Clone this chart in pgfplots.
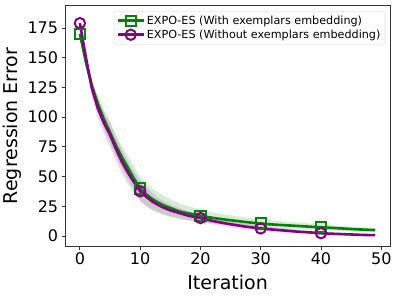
\documentclass[border=0pt]{standalone}
\usepackage{pgfplots}
\pgfplotsset{compat=1.18}
\usepackage{pgfplotstable}
\usepgfplotslibrary{fillbetween}
\usepackage{fontspec}
\setmainfont{DejaVu Sans}
\definecolor{mgreen}{RGB}{0,128,0}
\definecolor{mpurple}{RGB}{128,0,128}
\pgfplotstableread{
x g gl gh p pl ph
0 170 168 172 179 177 181
1 146 142 150 150 146 154
2 126 120 132 124 117 131
3 111 104 118 107 99 115
4 98 90 106 95 86 104
5 87 78 96 85 75 95
6 76 67 85 73 63 83
7 66 56.5 75.5 62 52 72
8 57 47 67 53 43.5 62.5
9 48 38 58 45 36 54
10 40 30 50 37.5 29 46
11 35 25.5 44.5 33 25 41
12 31 22 40 29 22 36
13 28 19.5 36.5 26 20 32
14 25.5 17.5 33.5 23.5 18 29
15 23.5 16 31 21.5 16.5 26.5
16 21.5 14.5 28.5 20 15.5 24.5
17 20 13.5 26.5 18.5 14.5 22.5
18 19 13 25 17 13.2 20.8
19 18 12.5 23.5 16 12.5 19.5
20 17 12 22 15 11.7 18.3
21 16 11.2 20.8 13.8 10.7 16.9
22 15.2 10.6 19.8 12.6 9.6 15.6
23 14.5 10 19 11.6 8.7 14.5
24 13.8 9.5 18.1 10.7 7.9 13.5
25 13.2 9 17.4 9.8 7.1 12.5
26 12.6 8.6 16.6 9 6.4 11.6
27 12 8.1 15.9 8.2 5.7 10.7
28 11.4 7.6 15.2 7.5 5.1 9.9
29 10.9 7.2 14.6 6.9 4.6 9.2
30 10.4 6.9 13.9 6.3 4.1 8.5
31 10 6.6 13.4 5.8 3.7 7.9
32 9.6 6.3 12.9 5.3 3.3 7.3
33 9.3 6.1 12.5 4.9 3 6.8
34 9 5.9 12.1 4.5 2.7 6.3
35 8.7 5.7 11.7 4.1 2.4 5.8
36 8.4 5.5 11.3 3.6 2.1 5.1
37 8.1 5.3 10.9 3.3 1.9 4.7
38 7.8 5.1 10.5 3.0 1.7 4.3
39 7.5 4.9 10.1 2.6 1.4 3.8
40 7.3 4.8 9.8 2.3 1.2 3.4
41 7 4.6 9.4 2.0 1.0 3.0
42 6.7 4.4 9.0 1.8 0.9 2.7
43 6.4 4.2 8.6 1.6 0.8 2.4
44 6.1 4.0 8.2 1.4 0.7 2.1
45 5.8 3.8 7.8 1.2 0.5 1.9
46 5.5 3.6 7.4 1.0 0.4 1.7
47 5.3 3.5 7.1 0.8 0.2 1.5
48 5.1 3.4 6.8 0.7 0.1 1.4
49 4.9 3.3 6.5 0.6 0.0 1.3
}\datatab
\begin{document}
\begin{tikzpicture}
\begin{axis}[
  name=ax,
  scale only axis,
  width=325pt, height=242pt,
  xmin=-2.45, xmax=51.45,
  ymin=-9.25, ymax=194.3,
  xtick={0,10,20,30,40,50},
  ytick={0,25,50,75,100,125,150,175},
  tick align=outside,
  tick pos=left,
  major tick length=3.5pt,
  tick style={black!80, line width=0.8pt},
  axis line style={black!80, line width=0.8pt},
  /pgf/number format/assume math mode=true,
  ticklabel style={font=\fontsize{16}{19}\selectfont},
  xticklabel style={yshift=1pt},
  xlabel={Iteration},
  ylabel={Regression Error},
  label style={font=\fontsize{19}{22}\selectfont},
  xlabel style={yshift=-3pt},
  ylabel style={yshift=-1pt},
  legend style={at={(0.985,0.975)}, anchor=north east,
    font=\fontsize{11.2}{13.5}\selectfont, draw=black!15, rounded corners=2pt,
    row sep=0pt, inner sep=2.5pt},
  legend cell align=left,
  legend image code/.code={
    \draw[mark repeat=2,mark phase=2] plot coordinates {(0cm,0cm) (0.45cm,0cm) (0.9cm,0cm)};
  },
]
\addplot[name path=gh, draw=none, forget plot] table[x=x,y=gh]{\datatab};
\addplot[name path=gl, draw=none, forget plot] table[x=x,y=gl]{\datatab};
\addplot[mgreen, fill opacity=0.15, forget plot] fill between[of=gh and gl];
\addplot[name path=ph, draw=none, forget plot] table[x=x,y=ph]{\datatab};
\addplot[name path=pl, draw=none, forget plot] table[x=x,y=pl]{\datatab};
\addplot[mpurple, fill opacity=0.15, forget plot] fill between[of=ph and pl];
\addplot[mgreen, line width=2.6pt, mark=square, mark size=5.2pt,
  mark repeat=10, mark phase=1, mark options={line width=2pt, fill=none}]
  table[x=x,y=g]{\datatab};
\addlegendentry{EXPO-ES (With exemplars embedding)}
\addplot[mpurple, line width=2.6pt, mark=o, mark size=5.2pt,
  mark repeat=10, mark phase=1, mark options={line width=2pt, fill=none}]
  table[x=x,y=p]{\datatab};
\addlegendentry{EXPO-ES (Without exemplars embedding)}
\end{axis}
\path (ax.south west) ++(-65pt,-49pt) rectangle ++(398pt,296pt);
\end{tikzpicture}
\end{document}
